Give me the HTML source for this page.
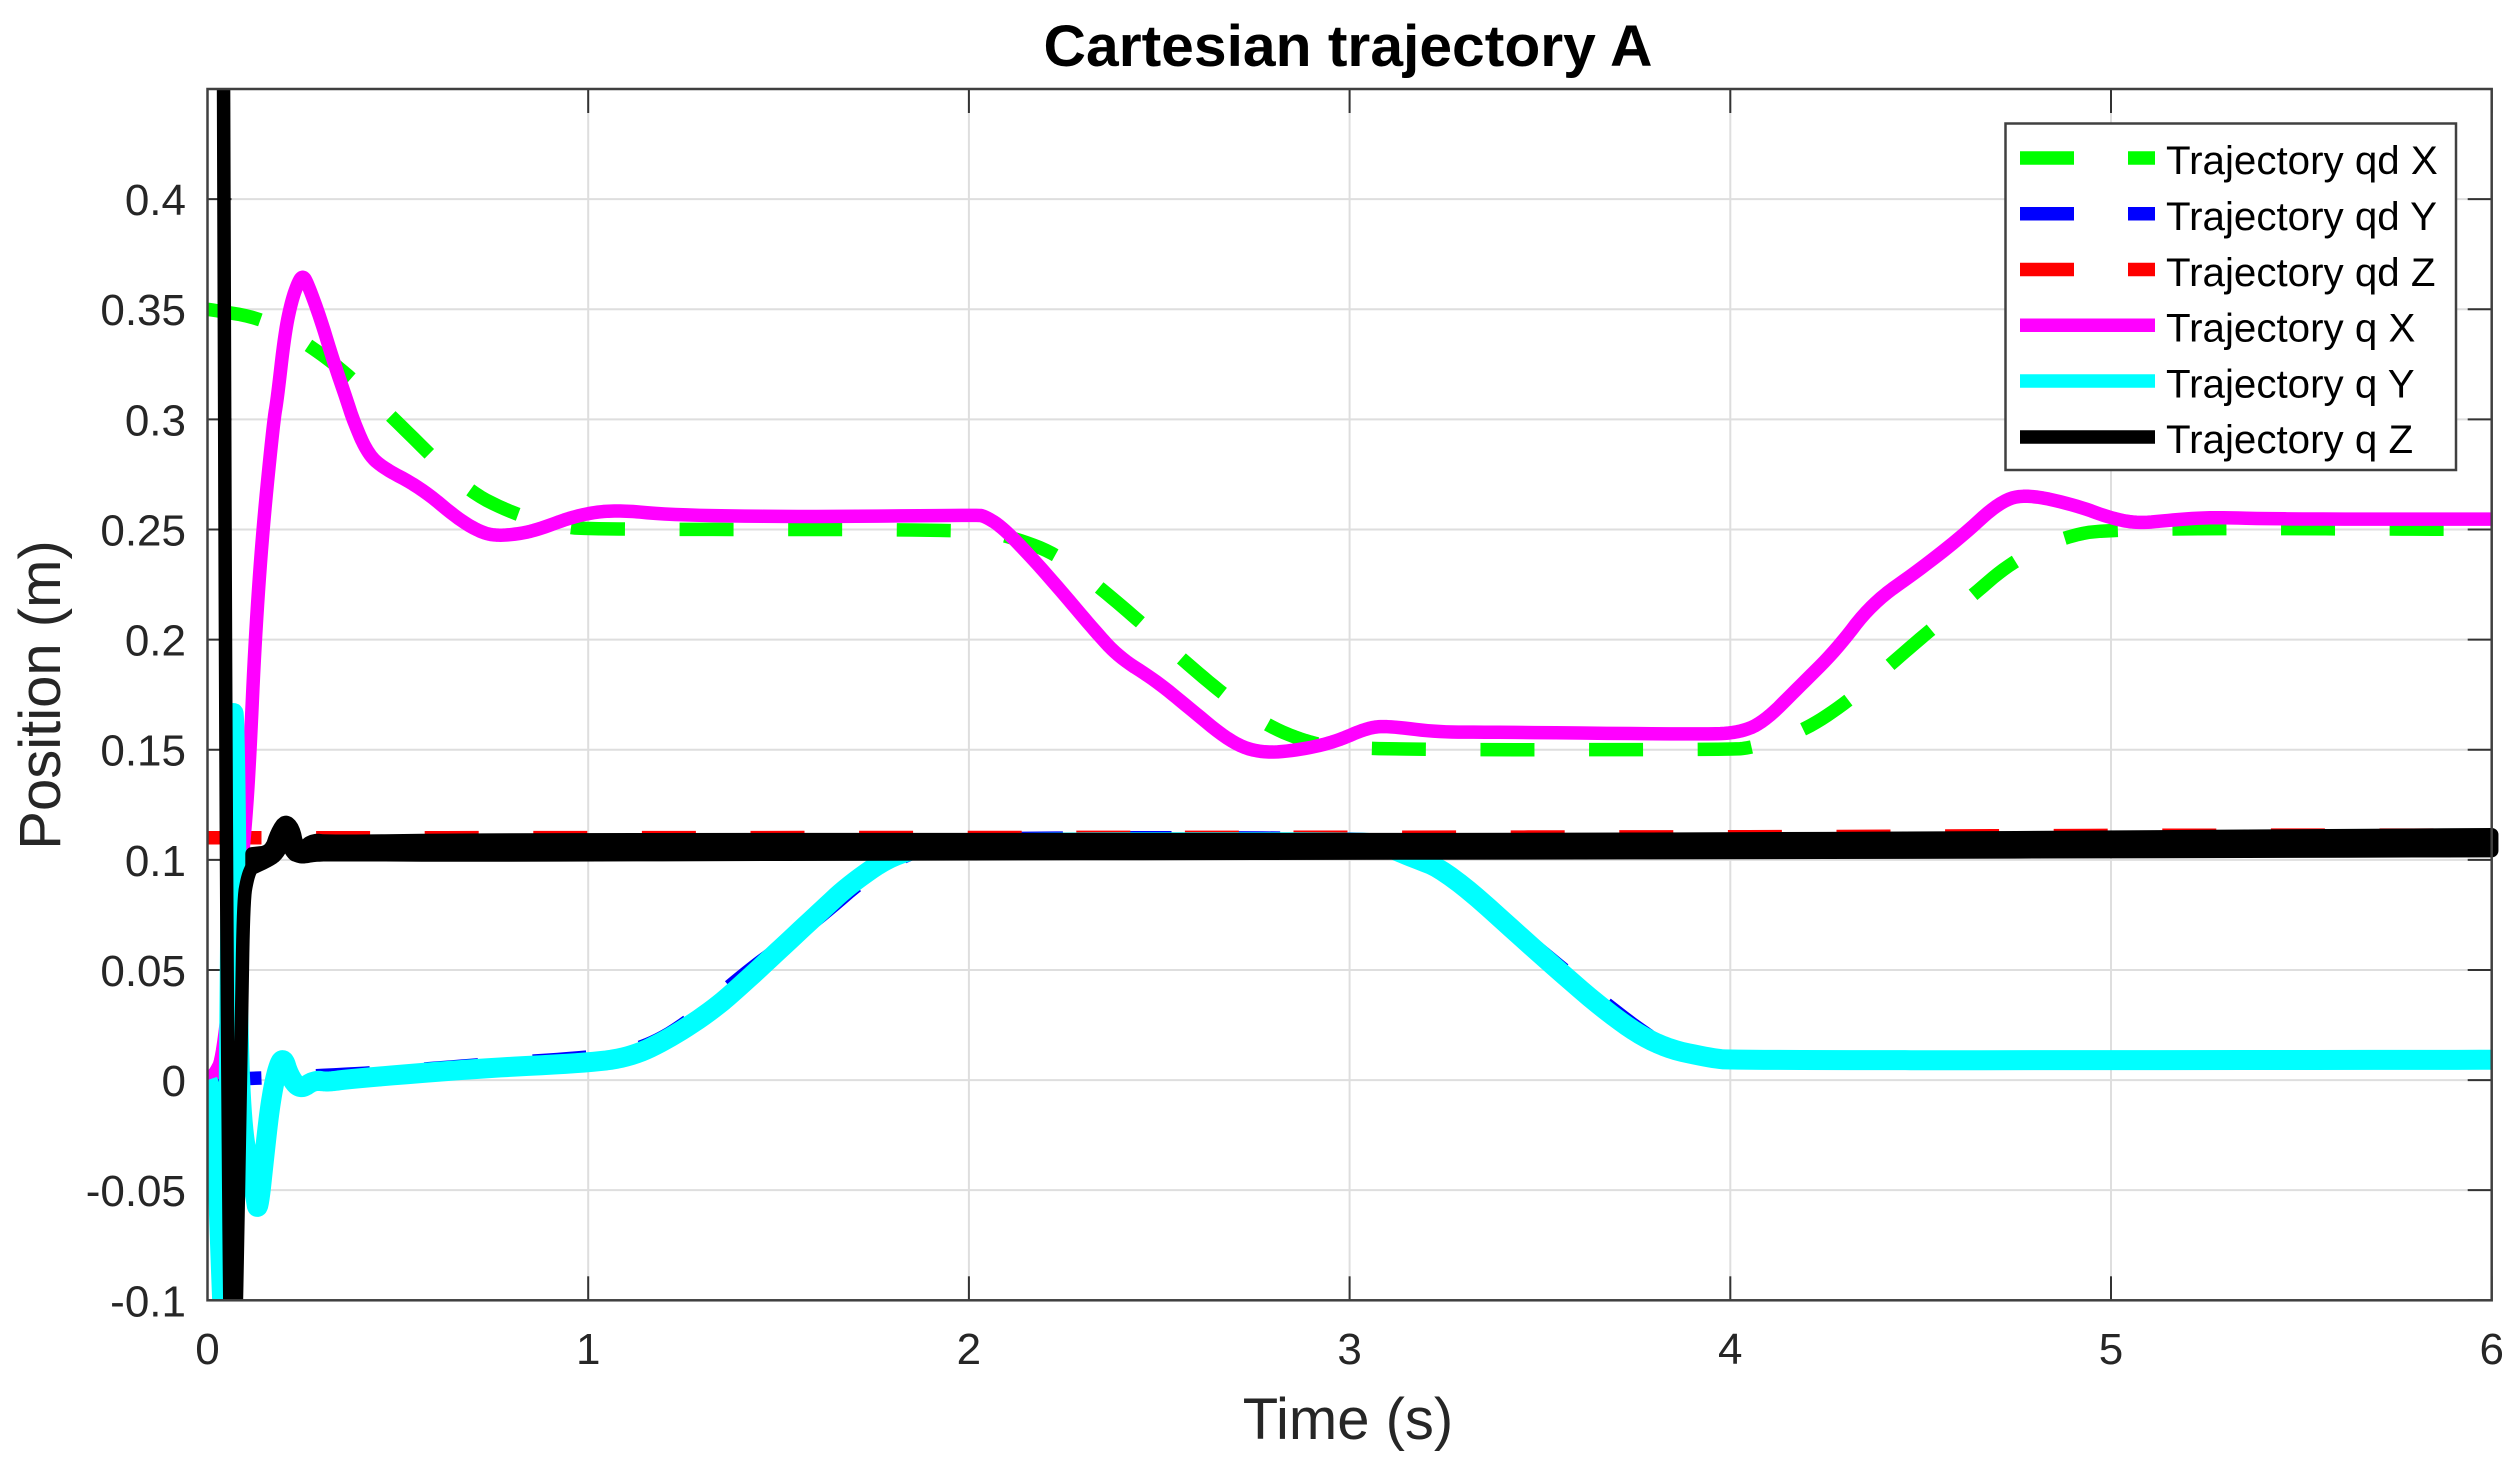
<!DOCTYPE html>
<html>
<head>
<meta charset="utf-8">
<title>Cartesian trajectory A</title>
<style>
html,body{margin:0;padding:0;background:#fff;width:2518px;height:1470px;overflow:hidden}
svg{display:block}
text{font-family:"Liberation Sans",Arial,sans-serif}
</style>
</head>
<body>
<svg id="chart" xmlns="http://www.w3.org/2000/svg" width="2518" height="1470" viewBox="0 0 2518 1470">
  <defs>
    <clipPath id="plot-clip"><rect x="208" y="89" width="2292" height="1212"/></clipPath>
  </defs>
  <rect x="0" y="0" width="2518" height="1470" fill="#ffffff"/>
  <rect x="207.5" y="89" width="2284.2" height="1211.3" fill="#ffffff"/>
  <g id="grid"></g>
  <g id="ticks"></g>
  <g id="series" clip-path="url(#plot-clip)" fill="none">
    <path id="s-qd-x" stroke="#00ff00" stroke-width="13.5" stroke-dasharray="54 54.6"/>
    <path id="s-qd-y" stroke="#0000ff" stroke-width="13.5" stroke-dasharray="54 54.6"/>
    <path id="s-qd-z" stroke="#ff0000" stroke-width="13.5" stroke-dasharray="54 54.6"/>
    <path id="s-q-x" stroke="#ff00ff" stroke-width="13.5" stroke-linejoin="round"/>
    <path id="s-q-y" stroke="#00ffff" stroke-width="20" stroke-linejoin="round"/>
    <path id="s-q-z" stroke="#000000" stroke-width="13.5" stroke-linejoin="round"/>
    <path id="s-q-z-band" stroke="#000000" fill="#000000" stroke-width="13.5" stroke-linejoin="round"/>
  </g>
  <rect x="207.5" y="89" width="2284.2" height="1211.3" fill="none" stroke="#404040" stroke-width="2.5"/>
  <g id="tick-labels" font-size="44" fill="#262626"></g>
  <text x="1348" y="66" font-size="58.8" font-weight="bold" text-anchor="middle" fill="#000000">Cartesian trajectory A</text>
  <text x="1348" y="1439" font-size="58" text-anchor="middle" fill="#262626">Time (s)</text>
  <text transform="translate(60 695) rotate(-90)" font-size="58" text-anchor="middle" fill="#262626">Position (m)</text>

  <g>
    <rect x="2005.5" y="123.5" width="450.5" height="346.5" fill="#ffffff" stroke="#404040" stroke-width="2.5"/>
    <g>
      <line x1="2020" x2="2155" y1="158" y2="158" stroke="#00ff00" stroke-width="13.5" stroke-dasharray="54 54"/>
      <text x="2166" y="174" font-size="40.3" fill="#000">Trajectory qd X</text>
    </g>
    <g>
      <line x1="2020" x2="2155" y1="213.7" y2="213.7" stroke="#0000ff" stroke-width="13.5" stroke-dasharray="54 54"/>
      <text x="2166" y="230" font-size="40.3" fill="#000">Trajectory qd Y</text>
    </g>
    <g>
      <line x1="2020" x2="2155" y1="269.5" y2="269.5" stroke="#ff0000" stroke-width="13.5" stroke-dasharray="54 54"/>
      <text x="2166" y="286" font-size="40.3" fill="#000">Trajectory qd Z</text>
    </g>
    <g>
      <line x1="2020" x2="2155" y1="325.3" y2="325.3" stroke="#ff00ff" stroke-width="13.5"/>
      <text x="2166" y="341.5" font-size="40.3" fill="#000">Trajectory q X</text>
    </g>
    <g>
      <line x1="2020" x2="2155" y1="381" y2="381" stroke="#00ffff" stroke-width="13.5"/>
      <text x="2166" y="397.5" font-size="40.3" fill="#000">Trajectory q Y</text>
    </g>
    <g>
      <line x1="2020" x2="2155" y1="437" y2="437" stroke="#000000" stroke-width="13.5"/>
      <text x="2166" y="453" font-size="40.3" fill="#000">Trajectory q Z</text>
    </g>
  </g>
</svg>
<script>
const xTicks = [0, 1, 2, 3, 4, 5, 6];
const xTickLabels = ['0', '1', '2', '3', '4', '5', '6'];
const yTicks = [-0.1, -0.05, 0, 0.05, 0.1, 0.15, 0.2, 0.25, 0.3, 0.35, 0.4];
const yTickLabels = ['-0.1', '-0.05', '0', '0.05', '0.1', '0.15', '0.2', '0.25', '0.3', '0.35', '0.4'];

const qdXTime = [0, 0.146, 0.269, 0.374, 0.509, 0.678, 0.805, 0.92, 1, 2, 2.095, 2.228, 2.342, 2.45, 2.556, 2.663, 2.777, 2.891, 3, 4, 4.06, 4.189, 4.305, 4.414, 4.516, 4.632, 4.735, 4.866, 5.002, 6];
const qdXValue = [0.35, 0.3459, 0.3336, 0.3196, 0.297, 0.268, 0.257, 0.2515, 0.25, 0.25, 0.2475, 0.2393, 0.2239, 0.208, 0.1917, 0.1759, 0.1614, 0.1532, 0.15, 0.15, 0.151, 0.1582, 0.1713, 0.1877, 0.203, 0.2194, 0.2348, 0.2462, 0.2507, 0.25];

const qdYTime = [0, 0.3, 0.5, 0.75, 1, 1.13, 1.25, 1.4, 1.5, 1.6, 1.75, 1.9, 2, 3, 3.1, 3.25, 3.5, 3.75, 3.85, 3.95, 4.05, 6];
const qdYValue = [0, 0.002, 0.004, 0.0075, 0.0102, 0.0135, 0.0245, 0.047, 0.06, 0.0725, 0.095, 0.107, 0.11, 0.11, 0.108, 0.0955, 0.059, 0.024, 0.0135, 0.0105, 0.0095, 0.0095];

const qdZTime = [0, 4, 5, 6];
const qdZValue = [0.11, 0.1103, 0.1112, 0.1112];

const qXTime = [0, 0.02, 0.04, 0.07, 0.101, 0.112, 0.125, 0.145, 0.174, 0.183, 0.203, 0.221, 0.24, 0.25, 0.26, 0.2955, 0.33, 0.366, 0.382, 0.416, 0.453, 0.56, 0.66, 0.721, 0.76, 0.81, 0.865, 0.97, 1.07, 1.22, 1.56, 2.02, 2.04, 2.087, 2.167, 2.247, 2.329, 2.394, 2.489, 2.57, 2.69, 2.77, 2.865, 2.96, 3.05, 3.106, 3.227, 3.36, 3.92, 4.016, 4.085, 4.18, 4.278, 4.372, 4.495, 4.606, 4.71, 4.78, 4.908, 5.0, 5.07, 5.154, 5.26, 5.43, 6];
const qXValue = [0, 0.003, 0.01, 0.06, 0.118, 0.15, 0.2, 0.25, 0.2997, 0.3087, 0.339, 0.354, 0.363, 0.365, 0.363, 0.3465, 0.3268, 0.3087, 0.3, 0.286, 0.2787, 0.269, 0.2545, 0.2485, 0.2472, 0.2478, 0.2497, 0.2565, 0.259, 0.2565, 0.2557, 0.2565, 0.2562, 0.2512, 0.2369, 0.2211, 0.2043, 0.192, 0.1816, 0.1702, 0.153, 0.1484, 0.1498, 0.1534, 0.1602, 0.1607, 0.158, 0.158, 0.157, 0.1575, 0.162, 0.1784, 0.1952, 0.2165, 0.2315, 0.2465, 0.263, 0.266, 0.261, 0.2551, 0.2528, 0.2542, 0.2556, 0.2547, 0.2547];

const qYTime = [0, 0.02, 0.04, 0.05, 0.058, 0.066, 0.07, 0.075, 0.08, 0.09, 0.11, 0.125, 0.133, 0.151, 0.164, 0.18, 0.198, 0.215, 0.243, 0.28, 0.316, 0.37, 0.72, 1, 1.11, 1.207, 1.328, 1.417, 1.5, 1.6, 1.69, 1.816, 1.98, 3, 3.08, 3.15, 3.259, 3.5, 3.69, 3.815, 3.947, 4.01, 6];
const qYValue = [0, -0.01, -0.11, -0.14, 0.05, 0.165, 0.168, 0.12, 0.027, -0.02, -0.04, -0.052, -0.061, -0.0318, -0.012, 0.0032, 0.0112, 0.0018, -0.0045, 0, -0.0009, 0.0005, 0.0054, 0.0078, 0.0104, 0.0182, 0.0318, 0.0454, 0.0588, 0.0749, 0.0894, 0.104, 0.108, 0.108, 0.1075, 0.102, 0.0949, 0.0571, 0.0286, 0.015, 0.01, 0.0089, 0.0092];

const qZTime = [0.042, 0.0486, 0.0578, 0.062, 0.072, 0.0762, 0.0893, 0.0946, 0.105, 0.117, 0.125];
const qZValue = [0.46, 0.118, -0.1, -0.13, -0.13, -0.1, 0.0268, 0.0817, 0.092, 0.097, 0.0985];

const qZBandTime = [0.117, 0.165, 0.183, 0.204, 0.225, 0.235, 0.25, 0.277, 0.32, 0.71, 2, 4, 6];
const qZBandUpper = [0.1027, 0.1036, 0.1127, 0.118, 0.1145, 0.1063, 0.1054, 0.1091, 0.1082, 0.1091, 0.1092, 0.1092, 0.1114];
const qZBandLower = [0.0962, 0.1001, 0.1026, 0.1089, 0.1026, 0.1019, 0.1012, 0.1021, 0.1024, 0.1021, 0.1028, 0.1033, 0.1042];

const xMin = 0, xMax = 6, yMin = -0.1, yMax = 0.45;
const plotLeft = 207.5, plotRight = 2491.7, plotTop = 89, plotBottom = 1300.3;
function xScale(t) { return plotLeft + (t - xMin) / (xMax - xMin) * (plotRight - plotLeft); }
function yScale(v) { return plotBottom - (v - yMin) / (yMax - yMin) * (plotBottom - plotTop); }

function chaikin(pts, rounds) {
  let p = pts;
  for (let r = 0; r < rounds; r++) {
    const out = [p[0]];
    for (let i = 0; i < p.length - 1; i++) {
      const a = p[i], b = p[i + 1];
      out.push([a[0] * 0.75 + b[0] * 0.25, a[1] * 0.75 + b[1] * 0.25]);
      out.push([a[0] * 0.25 + b[0] * 0.75, a[1] * 0.25 + b[1] * 0.75]);
    }
    out.push(p[p.length - 1]);
    p = out;
  }
  return p;
}
function toPixels(ts, vs) { return ts.map((t, i) => [xScale(t), yScale(vs[i])]); }
function dFrom(pts, start) {
  return pts.map((q, i) => ((i || !start) ? 'L' : 'M') + q[0].toFixed(2) + ' ' + q[1].toFixed(2)).join('');
}
function smoothPath(ts, vs) { return dFrom(chaikin(toPixels(ts, vs), 3), true); }

document.getElementById('s-qd-x').setAttribute('d', smoothPath(qdXTime, qdXValue));
document.getElementById('s-qd-y').setAttribute('d', smoothPath(qdYTime, qdYValue));
document.getElementById('s-qd-z').setAttribute('d', smoothPath(qdZTime, qdZValue));
document.getElementById('s-q-x').setAttribute('d', smoothPath(qXTime, qXValue));
document.getElementById('s-q-y').setAttribute('d', smoothPath(qYTime, qYValue));
document.getElementById('s-q-z').setAttribute('d', smoothPath(qZTime, qZValue));
const bandTop = dFrom(chaikin(toPixels(qZBandTime, qZBandUpper), 2), true);
const bandBottom = dFrom(chaikin(toPixels(qZBandTime, qZBandLower), 2).reverse(), false);
document.getElementById('s-q-z-band').setAttribute('d', bandTop + bandBottom + 'Z');

const NS = 'http://www.w3.org/2000/svg';
const gridG = document.getElementById('grid');
const tickG = document.getElementById('ticks');
const labelG = document.getElementById('tick-labels');
const tickLen = 24;

function mkLine(parent, x1, y1, x2, y2, color, w) {
  const el = document.createElementNS(NS, 'line');
  el.setAttribute('x1', x1);
  el.setAttribute('y1', y1);
  el.setAttribute('x2', x2);
  el.setAttribute('y2', y2);
  el.setAttribute('stroke', color);
  el.setAttribute('stroke-width', w);
  parent.appendChild(el);
  return el;
}

xTicks.forEach((t, i) => {
  const x = xScale(t);
  if (t > xMin && t < xMax) {
    const g = mkLine(gridG, x, plotTop, x, plotBottom, '#dedede', 2);
    
    
  }
  const a = mkLine(tickG, x, plotBottom, x, plotBottom - tickLen, '#333333', 2);
  
  
  const b = mkLine(tickG, x, plotTop, x, plotTop + tickLen, '#333333', 2);
  
  
  const lab = document.createElementNS(NS, 'text');
  lab.setAttribute('x', x);
  lab.setAttribute('y', 1364);
  lab.setAttribute('text-anchor', 'middle');
  
  
  lab.textContent = xTickLabels[i];
  labelG.appendChild(lab);
});

yTicks.forEach((v, i) => {
  const y = yScale(v);
  if (v > yMin) {
    const g = mkLine(gridG, plotLeft, y, plotRight, y, '#dedede', 2);
    
    
  }
  const a = mkLine(tickG, plotLeft, y, plotLeft + tickLen, y, '#333333', 2);
  
  
  const b = mkLine(tickG, plotRight, y, plotRight - tickLen, y, '#333333', 2);
  
  
  const lab = document.createElementNS(NS, 'text');
  lab.setAttribute('x', 186);
  lab.setAttribute('y', y + 16);
  lab.setAttribute('text-anchor', 'end');
  
  
  lab.textContent = yTickLabels[i];
  labelG.appendChild(lab);
});
</script>
</body>
</html>
